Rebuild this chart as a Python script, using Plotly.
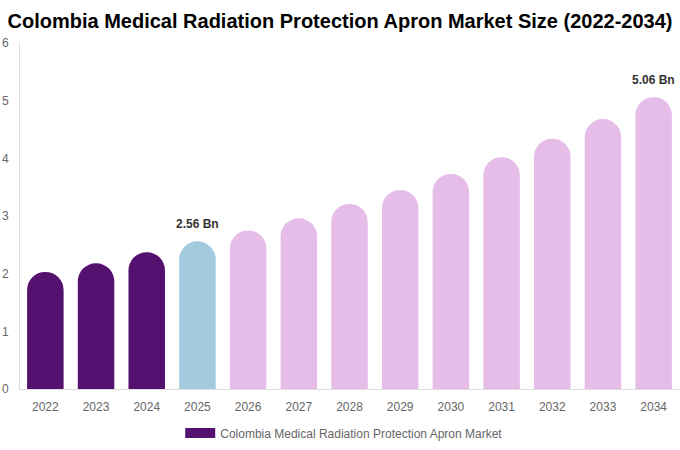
import plotly.graph_objects as go

years = ["2022", "2023", "2024", "2025", "2026", "2027", "2028",
         "2029", "2030", "2031", "2032", "2033", "2034"]
market_size = [2.03, 2.18, 2.37, 2.56, 2.75, 2.96, 3.21, 3.45, 3.73, 4.02, 4.34, 4.68, 5.06]
bar_colors = ["#541170"] * 3 + ["#A3CADF"] + ["#E6BDE9"] * 9
series_name = "Colombia Medical Radiation Protection Apron Market"
labelled = {"2025": "2.56 Bn", "2034": "5.06 Bn"}

fig = go.Figure()

fig.add_trace(go.Bar(
    x=years, y=market_size,
    marker=dict(color=bar_colors, line_width=0, cornerradius="50%"),
    width=0.72,
    showlegend=False,
    hoverinfo="x+y",
))

# legend entry drawn as a thick line so the swatch is a wide rectangle
fig.add_trace(go.Scatter(
    x=[years[0]], y=[None], mode="lines",
    line=dict(color="#541170", width=12),
    name=series_name, showlegend=True, hoverinfo="skip",
))

for yr, txt in labelled.items():
    i = years.index(yr)  # numeric years would be read as category indexes
    fig.add_annotation(
        x=i, y=market_size[i], text="<b>" + txt + "</b>",
        showarrow=False, yanchor="bottom", yshift=8,
        font=dict(size=12, color="#333333", family="Liberation Sans, Arial"),
    )

fig.update_layout(
    width=680, height=450,
    margin=dict(l=20, r=1, t=43, b=61, autoexpand=False),
    paper_bgcolor="white", plot_bgcolor="white",
    font=dict(family="Liberation Sans, Arial", color="#666666", size=12),
    title=dict(
        text="<b>Colombia Medical Radiation Protection Apron Market Size (2022-2034)</b>",
        x=0.5, xanchor="center", xref="container", y=0.953, yanchor="middle",
        font=dict(size=20, color="#000000", family="Liberation Sans, Arial"),
    ),
    legend=dict(
        orientation="h", x=0.492, xanchor="center", y=0.038, yanchor="middle",
        yref="container",
        font=dict(size=12, color="#666666"),
    ),
)

fig.update_xaxes(
    type="category",
    showgrid=False, showline=True, linecolor="#dddddd", linewidth=1,
    ticks="", ticklabelstandoff=7, tickfont=dict(size=12, color="#666666"),
)
fig.update_yaxes(
    range=[0, 6], dtick=1, showgrid=False, zeroline=False,
    showline=True, linecolor="#dddddd", linewidth=1,
    ticks="", ticklabelstandoff=8, tickfont=dict(size=12, color="#666666"),
)

# drop the browser's default 8px body margin so the figure sits at 0,0
fig.write_html("out.html", config={"displayModeBar": False},
               post_script="document.body.style.margin='0';")
